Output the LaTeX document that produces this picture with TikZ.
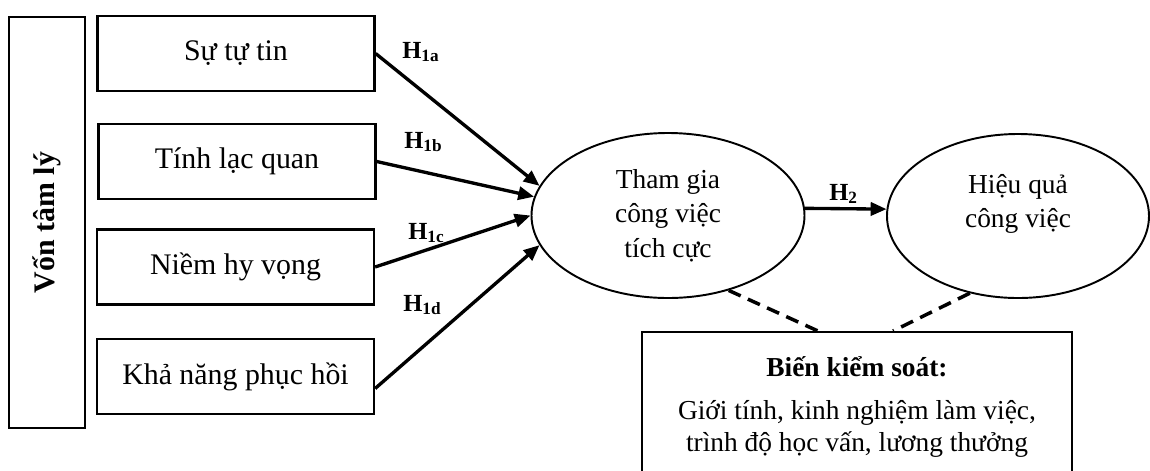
\documentclass[tikz,border=0pt]{standalone}
\usepackage{fontspec}
\setmainfont{Liberation Serif}
\usetikzlibrary{arrows.meta,shapes.geometric}

\newcommand{\hypo}[1]{\textbf{H}\textsubscript{\textbf{#1}}}

\begin{document}
\begin{tikzpicture}[>={Triangle[length=9pt,width=7.5pt]},
    box/.style={draw,line width=1.3pt,minimum width=5.54cm,minimum height=1.5cm,
      font=\fontsize{17}{20}\selectfont},
    oval/.style={ellipse,draw,line width=1.1pt,align=center,inner sep=0pt,
      font=\fontsize{15.6}{19.5}\selectfont},
    link/.style={->,line width=1.9pt},
    ctrlline/.style={line width=2pt,dash pattern=on 7.5pt off 4.5pt},
    hlbl/.style={anchor=base west,inner sep=0pt,font=\fontsize{14}{16}\selectfont}]
  \path[use as bounding box,clip] (0,0) rectangle (23,-9.4);

  \node[draw,line width=1.3pt,rotate=90,minimum width=8.22cm,minimum height=1.52cm,
    font=\bfseries\fontsize{17}{20}\selectfont] (vtl) at (0.94,-4.45) {Vốn tâm lý};

  \node[box] (b1) at (4.72,-1.07) {Sự tự tin};
  \node[box] (b2) at (4.74,-3.23) {Tính lạc quan};
  \node[box] (b3) at (4.71,-5.34) {Niềm hy vọng};
  \node[box] (b4) at (4.71,-7.53) {Khả năng phục hồi};

  \node[oval,minimum width=5.46cm,minimum height=3.3cm] (e1) at (13.36,-4.31)
    {Tham gia\\công việc\\tích cực};
  \node[oval,minimum width=5.24cm,minimum height=3.28cm] (e2) at (20.36,-4.32)
    {Hiệu quả\\công việc\\[-8pt]\strut};

  \node[draw,line width=1.3pt,anchor=north,minimum width=8.6cm,minimum height=3cm,
    align=center,font=\fontsize{15.6}{18.2}\selectfont] (ctrl) at (17.14,-6.62)
    {\textbf{Biến kiểm soát:}\\[6pt]Giới tính, kinh nghiệm làm việc,\\trình độ học vấn, lương thưởng};

  \draw[link] (b1.east) -- (e1.167);
  \draw[link] (b2.east) -- (e1.172);
  \draw[link] (b3.east) -- (e1.180);
  \draw[link] ([yshift=-0.24cm]b4.east) -- (e1.193);
  \draw[link] (e1.3) -- (e2.177);

  \draw[ctrlline] (e1.-51) -- ([xshift=-0.78cm]ctrl.north);
  \draw[ctrlline] (e2.238) -- ([xshift=0.72cm]ctrl.north);

  \node[hlbl] (h1a) at (8.04,-1.16) {\hypo{1a}};
  \node[hlbl] (h1b) at (8.08,-2.96) {\hypo{1b}};
  \node[hlbl] (h1c) at (8.16,-4.78) {\hypo{1c}};
  \node[hlbl] (h1d) at (8.06,-6.22) {\hypo{1d}};
  \node[hlbl] (h2) at (16.58,-4.0) {\hypo{2}};
\end{tikzpicture}
\end{document}
